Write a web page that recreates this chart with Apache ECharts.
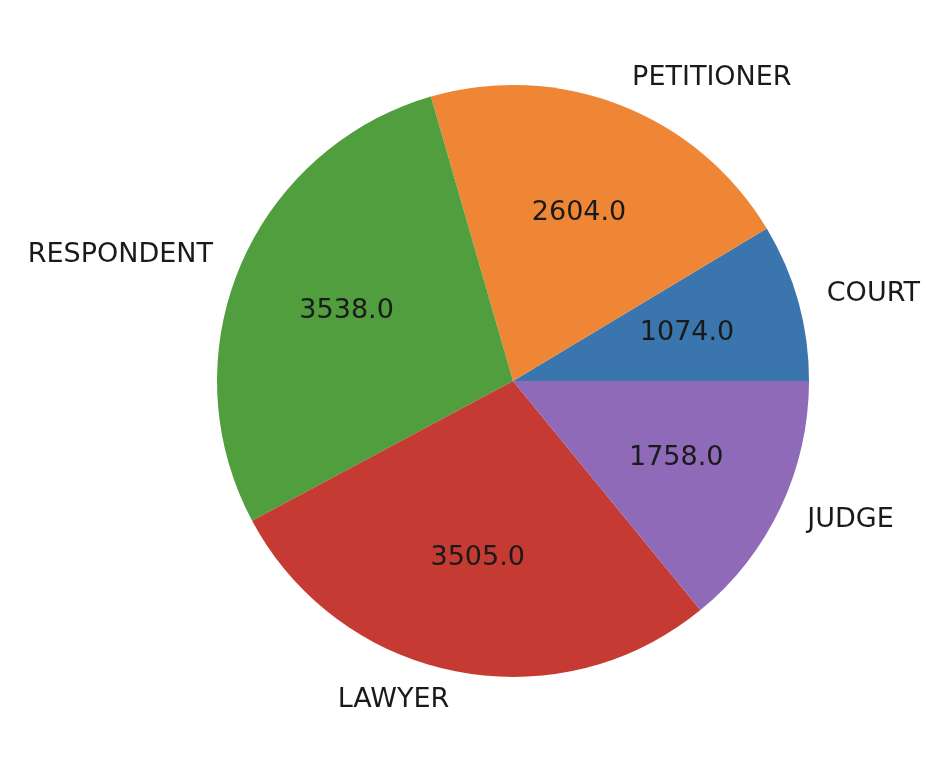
<!DOCTYPE html>
<html>
<head>
<meta charset="utf-8">
<script src="https://cdn.jsdelivr.net/npm/echarts@6/dist/echarts.min.js"></script>
<style>
  html, body { margin: 0; padding: 0; background: #fff; }
  #chart { width: 946px; height: 760px; }
</style>
</head>
<body>
<div id="chart"></div>
<script>
// pie data
var categories = ['COURT', 'PETITIONER', 'RESPONDENT', 'LAWYER', 'JUDGE'];
var counts = [1074, 2604, 3538, 3505, 1758];
var colors = ['#3a75ae', '#ef8636', '#519e3e', '#c53a32', '#8e6ab8'];

var R = 296;  // pie radius in px
var FONT = 'DejaVu Sans';

var pieData = categories.map(function (name, i) {
    return { name: name, value: counts[i], itemStyle: { color: colors[i] } };
});
var labelData = categories.map(function (name, i) {
    return { name: name, value: counts[i] };
});

var myChart = echarts.init(document.getElementById('chart'));
myChart.setOption({
    animation: false,
    series: [
        {
            // wedges + outer category labels (at 1.1 r)
            type: 'pie',
            center: [513, 381],
            radius: [0, R],
            startAngle: 0,
            clockwise: false,
            avoidLabelOverlap: false,
            silent: true,
            data: pieData,
            label: {
                show: true,
                position: 'outside',
                formatter: '{b}',
                color: '#1a1a1a',
                fontFamily: FONT,
                fontSize: 27,
                distanceToLabelLine: 0
            },
            labelLine: { show: false, length: R * 0.1, length2: 0 },
            emphasis: { disabled: true }
        },
        {
            // invisible pie, only used to put value labels at 0.6 r
            type: 'pie',
            center: [513, 381],
            radius: [0, R * 1.2],
            startAngle: 0,
            clockwise: false,
            silent: true,
            data: labelData,
            itemStyle: { color: 'rgba(0,0,0,0)' },
            label: {
                show: true,
                position: 'inside',
                formatter: function (p) { return p.value.toFixed(1); },
                color: '#1a1a1a',
                fontFamily: FONT,
                fontSize: 27
            },
            labelLine: { show: false },
            emphasis: { disabled: true }
        }
    ]
});
</script>
</body>
</html>
